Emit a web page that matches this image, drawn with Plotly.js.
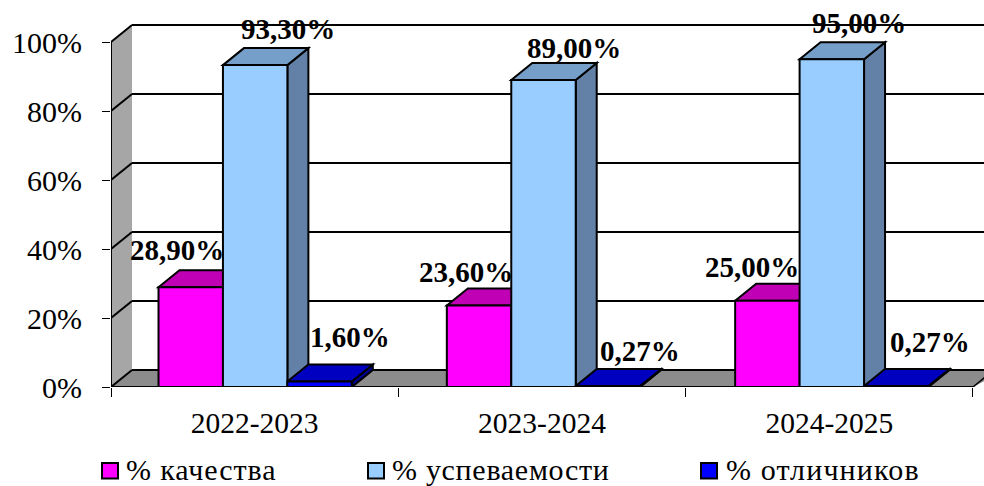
<!DOCTYPE html>
<html><head><meta charset="utf-8">
<script src="https://cdn.plot.ly/plotly-3.0.1.min.js"></script>
<style>html,body{margin:0;padding:0;background:#fff}#c{width:984px;height:486px}</style>
</head><body><div id="c"></div>
<script>
const years = ['2022-2023','2023-2024','2024-2025'];
const seriesNames = ['% качества','% успеваемости','% отличников'];
const quality = [28.9,23.6,25.0];
const progress = [93.3,89.0,95.0];
const excellent = [1.6,0.27,0.27];
const qualityLabels = ['28,90%','23,60%','25,00%'];
const progressLabels = ['93,30%','89,00%','95,00%'];
const excellentLabels = ['1,60%','0,27%','0,27%'];

const frontColors = ['#FF00FF','#99CCFF','#0000FF'];
const topColors = ['#C000B4','#759FC8','#0000C0'];
const sideColors = ['#A000A0','#6380A6','#000090'];
const values = [quality,progress,excellent];
const labels = [qualityLabels,progressLabels,excellentLabels];
// label offsets from the bar centre, pixels: [series][category]
const labelDx = [[-13,-12,-13],[33,32,30],[31,34,36]];
const labelDy = [[37,34,34],[36,32,36],[44,35,44]];
const groupNudge = [0.5,1.5,2.5];
const legendSpacing = [0.9,0.7,1.15];

// layout in pixels
const W=984,H=486,L=111,B=387,pxPerCat=287.33,pxPerPct=3.45,depthX=21,depthY=17;
const T=0;
const catD=depthX/pxPerCat, valD=depthY/pxPerPct;
const yMax=(B-T)/pxPerPct;
const xMin=-0.5, xMax=-0.5+(W-L)/pxPerCat;
const gap=94/pxPerCat, barW=(1-gap)/3;
const LINE='#000';
function poly(pts,fill,w){
  return {type:'path',xref:'x',yref:'y',layer:'below',
    path:'M'+pts.map(p=>p[0]+','+p[1]).join('L')+'Z',
    fillcolor:fill,line:{color:LINE,width:w===undefined?2:w}};
}
function seg(x0,y0,x1,y1,w){
  return {type:'line',xref:'x',yref:'y',layer:'below',x0,y0,x1,y1,line:{color:LINE,width:w||2}};
}
const shapes=[];
shapes.push({type:'path',xref:'x',yref:'y',layer:'below',
  path:`M${xMin},0L${xMin+catD},${valD}L${xMin+catD},${100+valD}L${xMin},100Z`,fillcolor:'#A6A6A6',line:{width:0}});
shapes.push({type:'path',xref:'x',yref:'y',layer:'below',
  path:`M${xMin},0L${xMin+catD},${valD}L${xMax+catD},${valD}L${2.5},0Z`,fillcolor:'#8C8C8C',line:{width:0}});
for(let v=0;v<=100;v+=20){
  shapes.push(seg(xMin,v,xMin+catD,v+valD));
  shapes.push(seg(xMin+catD,v+valD,xMax+0.1,v+valD));
}
shapes.push(seg(xMin,0,xMin,100));
shapes.push(seg(xMin,0,2.5,0));
shapes.push(seg(2.5,0,2.5+catD,valD,1.5));
values.forEach((vals,s)=>{
  vals.forEach((v,i)=>{
    const x0=i+(s-1.5)*barW+groupNudge[i]/pxPerCat, x1=x0+barW;
    shapes.push(poly([[x1,0],[x1+catD,valD],[x1+catD,v+valD],[x1,v]],sideColors[s]));
    shapes.push(poly([[x0,v],[x0+catD,v+valD],[x1+catD,v+valD],[x1,v]],topColors[s]));
  });
});
const px=x=>(x-L)/(W-L), py=y=>(B-y)/(B-T);
const swX=[102,368,701], txtX=[124,390,724];
const annotations=[];
seriesNames.forEach((n,s)=>{
  shapes.push({type:'rect',xref:'paper',yref:'paper',x0:px(swX[s]),x1:px(swX[s]+16),y0:py(478.5),y1:py(463),
    fillcolor:frontColors[s],line:{color:'#000',width:2}});
  annotations.push({xref:'paper',yref:'paper',x:px(txtX[s]),y:py(469),
    text:`<span style="letter-spacing:${legendSpacing[s]}px">${n}</span>`,showarrow:false,
    xanchor:'left',yanchor:'middle',font:{family:'Liberation Serif',size:30,color:'#000'}});
});
values.forEach((vals,s)=>vals.forEach((v,i)=>{
  annotations.push({x:i+(s-1)*barW,y:v,xref:'x',yref:'y',text:'<b>'+labels[s][i]+'</b>',showarrow:false,
    xanchor:'center',yanchor:'middle',xshift:labelDx[s][i],yshift:labelDy[s][i],
    font:{family:'Liberation Serif',size:29,color:'#000'}});
}));
const traces=values.map((vals,s)=>({type:'bar',name:seriesNames[s],x:years,y:vals,
  width:vals.map(()=>barW),offset:vals.map((_,i)=>(s-1.5)*barW+groupNudge[i]/pxPerCat),
  marker:{color:frontColors[s],line:{color:'#000',width:2}},hoverinfo:'x+y'}));
Plotly.newPlot('c',traces,{
  width:W,height:H,paper_bgcolor:'#fff',plot_bgcolor:'#fff',showlegend:false,
  margin:{l:L,r:0,t:T,b:H-B,pad:0},
  barmode:'overlay',
  font:{family:'Liberation Serif',color:'#000'},
  xaxis:{type:'category',categoryorder:'array',categoryarray:years,range:[xMin,xMax],tickson:'boundaries',
    ticks:'outside',ticklen:9,tickwidth:1,tickcolor:'#000',showgrid:false,zeroline:false,showline:false,
    tickfont:{family:'Liberation Serif',size:29.5,color:'#000'},ticklabelstandoff:15},
  yaxis:{range:[0,yMax],tickvals:[0,20,40,60,80,100],ticktext:['0%','20%','40%','60%','80%','100%'],
    ticks:'outside',ticklen:8,tickwidth:1,tickcolor:'#000',showgrid:false,zeroline:false,showline:false,
    tickfont:{family:'Liberation Serif',size:30,color:'#000'},ticklabelstandoff:14},
  shapes,annotations
},{displayModeBar:false,staticPlot:true});
</script></body></html>
